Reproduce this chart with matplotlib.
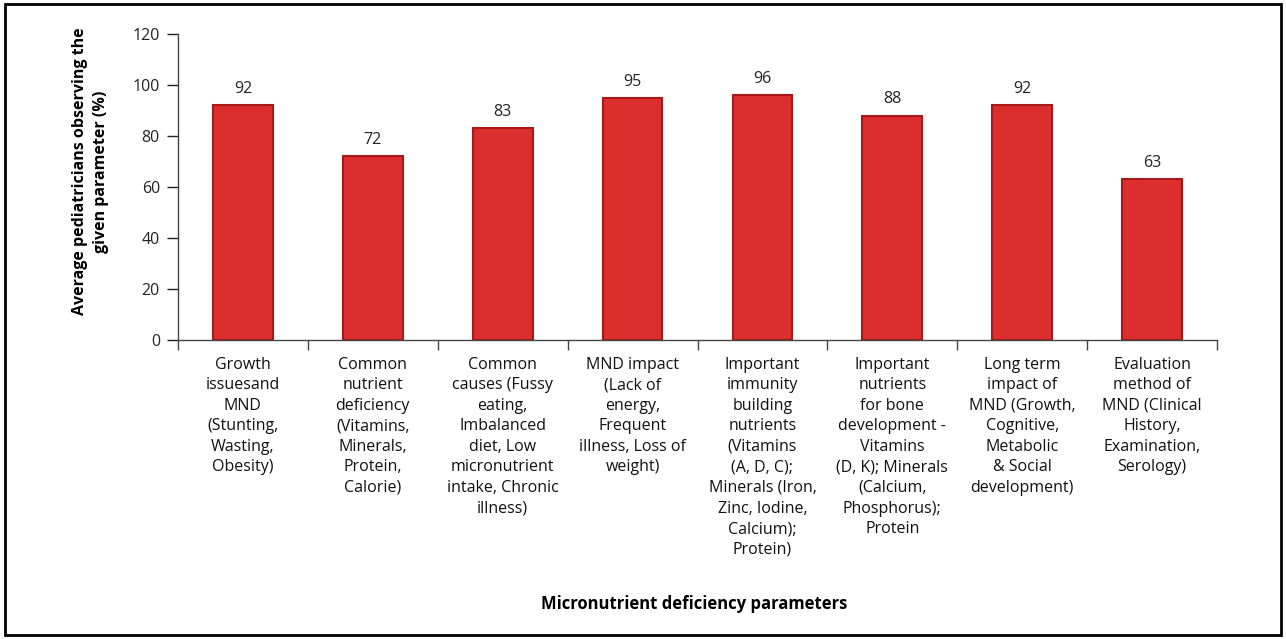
import matplotlib.pyplot as plt
from matplotlib.patches import Rectangle

# データ
categories = [
    "Growth\nissuesand\nMND\n(Stunting,\nWasting,\nObesity)",
    "Common\nnutrient\ndeficiency\n(Vitamins,\nMinerals,\nProtein,\nCalorie)",
    "Common\ncauses (Fussy\neating,\nImbalanced\ndiet, Low\nmicronutrient\nintake, Chronic\nillness)",
    "MND impact\n(Lack of\nenergy,\nFrequent\nillness, Loss of\nweight)",
    "Important\nimmunity\nbuilding\nnutrients\n(Vitamins\n(A, D, C);\nMinerals (Iron,\nZinc, Iodine,\nCalcium);\nProtein)",
    "Important\nnutrients\nfor bone\ndevelopment -\nVitamins\n(D, K); Minerals\n(Calcium,\nPhosphorus);\nProtein",
    "Long term\nimpact of\nMND (Growth,\nCognitive,\nMetabolic\n& Social\ndevelopment)",
    "Evaluation\nmethod of\nMND (Clinical\nHistory,\nExamination,\nSerology)",
]
values = [92, 72, 83, 95, 96, 88, 92, 63]
yticks = [0, 20, 40, 60, 80, 100, 120]

plt.rcParams['font.family'] = ['Open Sans', 'DejaVu Sans']

fig = plt.figure(figsize=(12.86, 6.39), dpi=100)
ax = fig.add_axes([0.1384, 0.468, 0.808, 0.4788])

x = list(range(len(values)))
bars = ax.bar(x, values, width=0.46, color='#dd2e2e', edgecolor='#a81818', linewidth=1.5)

# 値ラベル
for xi, v in zip(x, values):
    ax.text(xi, v + 3.2, str(v), ha='center', va='bottom', fontsize=11.5, color='#222222')

ax.set_xlim(-0.5, len(values) - 0.5)
ax.set_ylim(0, 120)
ax.set_yticks(yticks)
ax.tick_params(axis='y', direction='out', length=8, width=1, labelsize=11.5, pad=5, colors='#222222')

# カテゴリ境界の目盛り
ax.set_xticks([i - 0.5 for i in range(len(values) + 1)])
ax.set_xticklabels([])
ax.set_xticks(x, minor=True)
ax.set_xticklabels(categories, minor=True, fontsize=11.5, linespacing=1.38, va='top')
ax.tick_params(axis='x', which='major', direction='out', length=7, width=1, colors='#444444')
ax.tick_params(axis='x', which='minor', length=0, pad=12, labelcolor='#111111')

for s in ['top', 'right']:
    ax.spines[s].set_visible(False)
for s in ['left', 'bottom']:
    ax.spines[s].set_color('#444444')
    ax.spines[s].set_linewidth(1)

ax.set_ylabel("Average pediatricians observing the\ngiven parameter (%)", fontsize=11.5,
              fontweight='bold', linespacing=1.45)
ax.yaxis.set_label_coords(-0.066, 0.55)

fig.text(0.54, 1 - 604 / 639, "Micronutrient deficiency parameters", ha='center', va='center',
         fontsize=12, fontweight='bold')

# 外枠
fig.patches.append(Rectangle((0.004, 0.006), 0.992, 0.988, transform=fig.transFigure,
                             fill=False, edgecolor='black', linewidth=2))

fig.savefig('out.png', dpi=100, facecolor='white')
